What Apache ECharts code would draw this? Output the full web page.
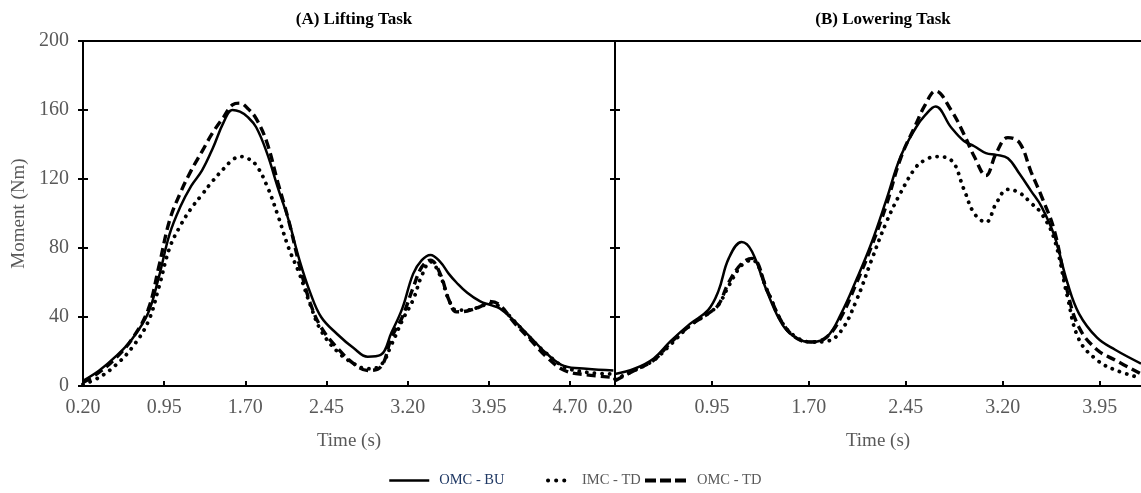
<!DOCTYPE html>
<html>
<head>
<meta charset="utf-8">
<script src="https://cdn.jsdelivr.net/npm/echarts@6/dist/echarts.min.js"></script>
<style>
html,body{margin:0;padding:0;background:#fff;}
#chart{width:1141px;height:493px;}
</style>
</head>
<body>
<div id="chart"></div>
<script>
// ---- Data ----
const panelTitles = ['(A) Lifting Task', '(B) Lowering Task'];
const seriesNames = ['OMC - BU', 'IMC - TD', 'OMC - TD'];
const yTickLabels = ['0', '40', '80', '120', '160', '200'];
const liftTickLabels = ['0.20', '0.95', '1.70', '2.45', '3.20', '3.95', '4.70'];
const lowerTickLabels = ['0.20', '0.95', '1.70', '2.45', '3.20', '3.95'];

const liftTime = [0.20,0.35,0.50,0.65,0.80,0.90,1.00,1.10,1.20,1.30,1.40,1.50,1.58,1.65,1.72,1.80,1.90,2.00,2.10,2.20,2.30,2.40,2.55,2.70,2.83,2.95,3.05,3.15,3.25,3.33,3.41,3.50,3.58,3.65,3.75,3.87,3.96,4.05,4.18,4.33,4.48,4.65,4.85,5.10];
const liftOmcBu = [3,9,17,27,42,63,88,104,116,125,138,153,160,159,156,150,135,115,96,73,54,40,30,22,17,18,31,45,65,73,76,72,65,60,54,49,47,45,38,28.5,19,11.5,10,9];
const liftImcTd = [1,5,12,22,37,57,80,93,103,111,119,126,131,133,132,128,116,99,80,65,47,32,20,13,10,12,24,38,50,64,72,64,50,44,44,46,48,46,38,28,19,11,8,7];
const liftOmcTd = [2,8,16,27,44,69,96,112,125,136,147,156,163,164,161,155,141,118,96,70,48,34,22,13,9,11,28,40,57,69,73,65,50,43,43.5,46,49,47,37,27,17,9,6.5,5];

const lowerTime = [0.20,0.35,0.50,0.63,0.78,0.92,1.00,1.08,1.18,1.26,1.38,1.50,1.61,1.72,1.84,1.95,2.07,2.18,2.30,2.41,2.53,2.60,2.68,2.80,2.90,2.98,3.07,3.15,3.24,3.33,3.42,3.50,3.60,3.70,3.79,3.93,4.07,4.27];
const lowerOmcBu = [7,10,16,26,36,44,55,74,83.5,78,54,35,27.5,25.5,28.5,42,62,82,108,133,150,157,162,150,142,139,135,134,132,123,113,104,87,60,42,28,21,13];
const lowerImcTd = [4,9,15,24,35,42,47,58,70,73,55,36,28,25.5,26,32,50,72,95,112,127,131,133,131,114,100,95,106,114,112,106,100,85,52,27,15,9.3,4.6];
const lowerOmcTd = [3,9,15,25,35,42,47,60,71,74,55,36,27.5,25.5,28.5,40,60,80,105,132,152,163,171,160,146,133,122,135,144,141,124,110,90,55,34,21,15,7];

// ---- Helpers ----
const pairs = (t, v) => t.map((x, i) => [x, v[i]]);
const liftTicks = liftTickLabels.map(Number);
const lowerTicks = lowerTickLabels.map(Number);
const yTicks = yTickLabels.map(Number);

const SERIF = 'Liberation Serif';
const GRAY = '#595959';
const axisLineStyle = { color: '#000', width: 2 };

const styles = {
  'OMC - BU': { type: 'solid', width: 2.5, cap: 'butt' },
  'IMC - TD': { type: [0.1, 7.5], width: 3.8, cap: 'round' },
  'OMC - TD': { type: [9, 5], width: 3.4, cap: 'butt' }
};
const legendStyles = {
  'OMC - BU': { type: 'solid', width: 2.5, cap: 'butt', color: '#000' },
  'IMC - TD': { type: [0.1, 8], width: 4, cap: 'round', color: '#000' },
  'OMC - TD': { type: [11, 4], width: 4, cap: 'butt', color: '#000' }
};

function lineSeries(name, xi, yi, data) {
  return {
    name, type: 'line', xAxisIndex: xi, yAxisIndex: yi, data,
    smooth: 0.4, symbol: 'none', showSymbol: false,
    lineStyle: Object.assign({ color: '#000' }, styles[name]),
    itemStyle: { color: '#000' },
    emphasis: { disabled: true },
    z: name === 'OMC - BU' ? 5 : 3
  };
}

function bottomX(gi, min, max, ticks, labels) {
  return {
    gridIndex: gi, type: 'value', position: 'bottom', min, max,
    axisLine: { show: true, onZero: false, lineStyle: axisLineStyle },
    axisTick: { show: true, inside: true, length: 5, customValues: ticks, lineStyle: axisLineStyle },
    axisLabel: {
      show: true, customValues: ticks,
      formatter: (v) => labels[ticks.findIndex(t => Math.abs(t - v) < 1e-6)] ?? v.toFixed(2),
      color: GRAY, fontFamily: SERIF, fontSize: 20, margin: 12
    },
    splitLine: { show: false },
    name: 'Time (s)', nameLocation: 'middle', nameGap: 46,
    nameTextStyle: { color: GRAY, fontFamily: SERIF, fontSize: 19 }
  };
}
function topX(gi, min, max) {
  return {
    gridIndex: gi, type: 'value', position: 'top', min, max,
    axisLine: { show: true, onZero: false, lineStyle: axisLineStyle },
    axisTick: { show: false }, axisLabel: { show: false }, splitLine: { show: false }
  };
}
function yAx(gi, opts) {
  return Object.assign({
    gridIndex: gi, type: 'value', min: 0, max: 200, interval: 40, position: 'left',
    axisLine: { show: true, onZero: false, lineStyle: axisLineStyle },
    axisTick: { show: true, length: 5, lineStyle: axisLineStyle },
    axisLabel: { show: false },
    splitLine: { show: false }
  }, opts);
}

const chart = echarts.init(document.getElementById('chart'), null, { renderer: 'canvas' });

const legendBase = (name, left, w, color) => ({
  data: [name], left, top: 473, orient: 'horizontal', padding: 0,
  itemWidth: w, itemHeight: 14, selectedMode: false,
  itemStyle: { opacity: 0 },
  lineStyle: legendStyles[name],
  textStyle: { color, fontFamily: SERIF, fontSize: 14.5, padding: [0, 0, 0, 5] }
});

chart.setOption({
  backgroundColor: '#fff',
  animation: false,
  title: [
    { text: panelTitles[0], left: 349, top: 6, textAlign: 'center',
      textStyle: { fontFamily: SERIF, fontSize: 17, fontWeight: 'bold', color: '#000' } },
    { text: panelTitles[1], left: 878, top: 6, textAlign: 'center',
      textStyle: { fontFamily: SERIF, fontSize: 17, fontWeight: 'bold', color: '#000' } }
  ],
  legend: [
    legendBase(seriesNames[0], 388, 40, '#1F3864'),
    legendBase(seriesNames[1], 546, 24, GRAY),
    legendBase(seriesNames[2], 643, 42, GRAY)
  ],
  grid: [
    { left: 83, right: 526, top: 41, bottom: 107, containLabel: false },
    { left: 615, right: 0, top: 41, bottom: 107, containLabel: false }
  ],
  xAxis: [
    bottomX(0, 0.2, 5.115, liftTicks, liftTickLabels),
    bottomX(1, 0.2, 4.27, lowerTicks, lowerTickLabels),
    topX(0, 0.2, 5.115),
    topX(1, 0.2, 4.27)
  ],
  yAxis: [
    yAx(0, {
      axisLabel: { show: true, color: GRAY, fontFamily: SERIF, fontSize: 20, margin: 14,
        formatter: (v) => yTickLabels[yTicks.indexOf(v)] ?? String(v) },
      name: 'Moment (Nm)', nameLocation: 'middle', nameGap: 54, nameRotate: 90,
      nameTextStyle: { color: GRAY, fontFamily: SERIF, fontSize: 19 }
    }),
    yAx(1, {}),
    yAx(0, { axisLine: { show: false }, axisTick: { show: true, inside: true, length: 5, lineStyle: axisLineStyle } }),
    yAx(1, { axisLine: { show: false }, axisTick: { show: true, inside: true, length: 5, lineStyle: axisLineStyle } })
  ],
  series: [
    lineSeries(seriesNames[1], 0, 0, pairs(liftTime, liftImcTd)),
    lineSeries(seriesNames[2], 0, 0, pairs(liftTime, liftOmcTd)),
    lineSeries(seriesNames[0], 0, 0, pairs(liftTime, liftOmcBu)),
    lineSeries(seriesNames[1], 1, 1, pairs(lowerTime, lowerImcTd)),
    lineSeries(seriesNames[2], 1, 1, pairs(lowerTime, lowerOmcTd)),
    lineSeries(seriesNames[0], 1, 1, pairs(lowerTime, lowerOmcBu))
  ]
});
</script>
</body>
</html>
